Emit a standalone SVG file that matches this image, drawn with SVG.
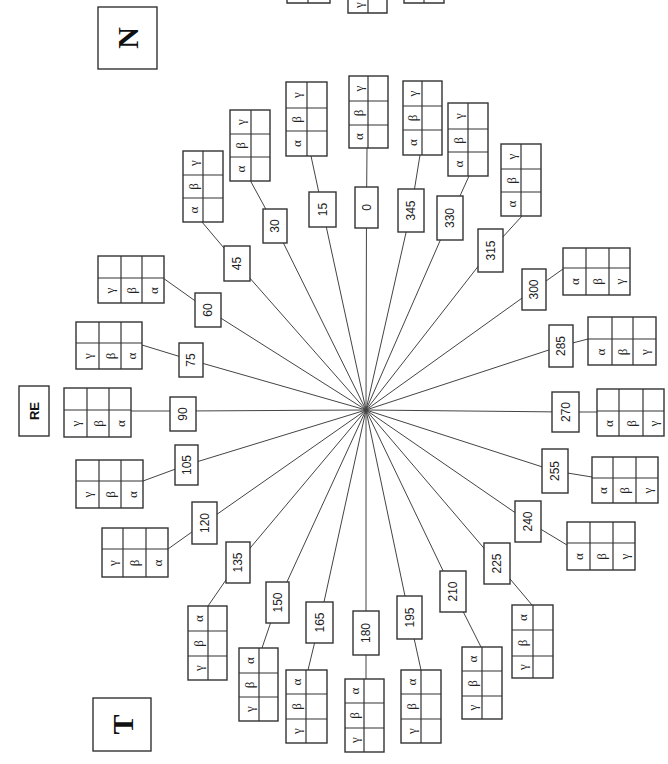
<svg xmlns="http://www.w3.org/2000/svg" width="668" height="764" viewBox="0 0 668 764">
<style>
.bg{fill:#fff}
.ln{stroke:#444;stroke-width:1;fill:none}
.bx{fill:#fff;stroke:#333;stroke-width:1.4}
.tb{fill:#fff;stroke:#333;stroke-width:1.4}
.gl{stroke:#333;stroke-width:1.2}
.num{font-family:"Liberation Sans",Arial,sans-serif;font-size:12px;fill:#222;text-anchor:middle;dominant-baseline:central}
.gr{font-family:"Liberation Serif","DejaVu Serif",serif;font-size:13px;fill:#222;text-anchor:middle;dominant-baseline:central}
.big{font-family:"Liberation Serif","DejaVu Serif",serif;font-size:30px;font-weight:bold;fill:#111;text-anchor:middle;dominant-baseline:central}
.re{font-family:"Liberation Sans",Arial,sans-serif;font-size:13px;font-weight:bold;fill:#111;text-anchor:middle;dominant-baseline:central}
</style>
<rect class="bg" x="0" y="0" width="668" height="764"/>

<g id="connectors">
<path class="ln" d="M366,410 L366.5,207.5 M366.5,207.5 L367,148"/>
<path class="ln" d="M366,410 L322.5,209.5 M322.5,209.5 L311,156"/>
<path class="ln" d="M366,410 L275,226 M275,226 L250,180"/>
<path class="ln" d="M366,410 L237,263.5 M237,263.5 L202,222"/>
<path class="ln" d="M366,410 L208,310 M208,310 L163,278"/>
<path class="ln" d="M366,410 L191,360 M191,360 L142,345"/>
<path class="ln" d="M366,410 L183,411 M183,411 L131,411"/>
<path class="ln" d="M366,410 L186.5,465 M186.5,465 L143,481"/>
<path class="ln" d="M366,410 L204.5,523 M204.5,523 L168,549"/>
<path class="ln" d="M366,410 L238,562.5 M238,562.5 L208,606"/>
<path class="ln" d="M366,410 L277.5,602.5 M277.5,602.5 L262,648"/>
<path class="ln" d="M366,410 L319.5,622.5 M319.5,622.5 L308,670"/>
<path class="ln" d="M366,410 L366,633 M366,633 L366,679"/>
<path class="ln" d="M366,410 L409.5,617.5 M409.5,617.5 L421,670"/>
<path class="ln" d="M366,410 L453,591.5 M453,591.5 L481,647"/>
<path class="ln" d="M366,410 L497,563.5 M497,563.5 L532,605"/>
<path class="ln" d="M366,410 L528,521.5 M528,521.5 L567,545"/>
<path class="ln" d="M366,410 L555,471 M555,471 L592,477"/>
<path class="ln" d="M366,410 L565.5,412 M565.5,412 L597,412"/>
<path class="ln" d="M366,410 L561,346 M561,346 L588,339"/>
<path class="ln" d="M366,410 L534,289.5 M534,289.5 L563,269"/>
<path class="ln" d="M366,410 L490.5,250.5 M490.5,250.5 L522,216"/>
<path class="ln" d="M366,410 L450,218 M450,218 L469,176"/>
<path class="ln" d="M366,410 L411,210.5 M411,210.5 L420,155"/>
</g>

<g id="partial-top">
<path class="tb" d="M287,-5 L287,3 L330,3 L330,-5"/><line class="gl" x1="308" y1="-5" x2="308" y2="3"/>
<path class="tb" d="M348,-5 L348,13 L387,13 L387,-5"/><line class="gl" x1="368" y1="-5" x2="368" y2="13"/>
<text class="gr" transform="rotate(-90 358 5)" x="358" y="5">γ</text>
<path class="tb" d="M404,-5 L404,3 L444,3 L444,-5"/><line class="gl" x1="424" y1="-5" x2="424" y2="3"/>
</g>

<g id="label-N"><rect class="bx" x="98" y="7" width="59" height="62"/><text class="big" transform="rotate(-90 127.5 38)" x="127.5" y="38">N</text></g>
<g id="label-T"><rect class="bx" x="93" y="698" width="58" height="53" stroke-width="1.8"/><text class="big" transform="rotate(-90 122 724.5)" x="122" y="724.5">T</text></g>
<g id="label-RE"><rect class="bx" x="19" y="386" width="30" height="50" stroke-width="1.8"/><text class="re" transform="rotate(-90 34 411)" x="34" y="411">RE</text></g>

<g id="n0"><rect class="bx" x="355" y="187" width="23" height="41"/><text class="num" transform="rotate(-90 366.5 207.5)" x="366.5" y="207.5">0</text>
<rect class="tb" x="349" y="76" width="39" height="72"/><path class="gl" d="M368,76V148M349,101H388M349,125H388"/>
<text class="gr" transform="rotate(-90 358.5 88.5)" x="358.5" y="88.5">γ</text><text class="gr" transform="rotate(-90 358.5 113)" x="358.5" y="113">β</text><text class="gr" transform="rotate(-90 358.5 136.5)" x="358.5" y="136.5">α</text></g>

<g id="n15"><rect class="bx" x="309" y="192" width="27" height="35"/><text class="num" transform="rotate(-90 322.5 209.5)" x="322.5" y="209.5">15</text>
<rect class="tb" x="286" y="82" width="41" height="74"/><path class="gl" d="M307,82V156M286,108H327M286,131H327"/>
<text class="gr" transform="rotate(-90 296.5 95)" x="296.5" y="95">γ</text><text class="gr" transform="rotate(-90 296.5 119.5)" x="296.5" y="119.5">β</text><text class="gr" transform="rotate(-90 296.5 143.5)" x="296.5" y="143.5">α</text></g>

<g id="n345"><rect class="bx" x="398" y="189" width="26" height="43"/><text class="num" transform="rotate(-90 411 210.5)" x="411" y="210.5">345</text>
<rect class="tb" x="403" y="81" width="39" height="74"/><path class="gl" d="M422,81V155M403,106H442M403,130H442"/>
<text class="gr" transform="rotate(-90 412.5 93.5)" x="412.5" y="93.5">γ</text><text class="gr" transform="rotate(-90 412.5 118)" x="412.5" y="118">β</text><text class="gr" transform="rotate(-90 412.5 142.5)" x="412.5" y="142.5">α</text></g>

<g id="n30"><rect class="bx" x="263" y="209" width="24" height="34"/><text class="num" transform="rotate(-90 275 226)" x="275" y="226">30</text>
<rect class="tb" x="230" y="110" width="40" height="71"/><path class="gl" d="M251,110V181M230,134H270M230,157H270"/>
<text class="gr" transform="rotate(-90 240.5 122)" x="240.5" y="122">γ</text><text class="gr" transform="rotate(-90 240.5 145.5)" x="240.5" y="145.5">β</text><text class="gr" transform="rotate(-90 240.5 169)" x="240.5" y="169">α</text></g>

<g id="n45"><rect class="bx" x="224" y="246" width="26" height="35"/><text class="num" transform="rotate(-90 237 263.5)" x="237" y="263.5">45</text>
<rect class="tb" x="183" y="151" width="40" height="71"/><path class="gl" d="M203,151V222M183,175H223M183,198H223"/>
<text class="gr" transform="rotate(-90 193 163)" x="193" y="163">γ</text><text class="gr" transform="rotate(-90 193 186.5)" x="193" y="186.5">β</text><text class="gr" transform="rotate(-90 193 210)" x="193" y="210">α</text></g>

<g id="n330"><rect class="bx" x="437" y="196" width="26" height="44"/><text class="num" transform="rotate(-90 450 218)" x="450" y="218">330</text>
<rect class="tb" x="448" y="103" width="40" height="73"/><path class="gl" d="M468,103V176M448,129H488M448,152H488"/>
<text class="gr" transform="rotate(-90 458 116)" x="458" y="116">γ</text><text class="gr" transform="rotate(-90 458 140.5)" x="458" y="140.5">β</text><text class="gr" transform="rotate(-90 458 164)" x="458" y="164">α</text></g>

<g id="n315"><rect class="bx" x="478" y="229" width="25" height="43"/><text class="num" transform="rotate(-90 490.5 250.5)" x="490.5" y="250.5">315</text>
<rect class="tb" x="501" y="144" width="40" height="72"/><path class="gl" d="M521,144V216M501,169H541M501,192H541"/>
<text class="gr" transform="rotate(-90 511 156.5)" x="511" y="156.5">γ</text><text class="gr" transform="rotate(-90 511 180.5)" x="511" y="180.5">β</text><text class="gr" transform="rotate(-90 511 204)" x="511" y="204">α</text></g>

<g id="n60"><rect class="bx" x="195" y="293" width="26" height="34"/><text class="num" transform="rotate(-90 208 310)" x="208" y="310">60</text>
<rect class="tb" x="98" y="256" width="66" height="47"/><path class="gl" d="M121,256V303M142,256V303M98,278H164"/>
<text class="gr" transform="rotate(-90 109.5 290.5)" x="109.5" y="290.5">γ</text><text class="gr" transform="rotate(-90 131.5 290.5)" x="131.5" y="290.5">β</text><text class="gr" transform="rotate(-90 153 290.5)" x="153" y="290.5">α</text></g>

<g id="n75"><rect class="bx" x="179" y="343" width="24" height="34"/><text class="num" transform="rotate(-90 191 360)" x="191" y="360">75</text>
<rect class="tb" x="76" y="322" width="66" height="47"/><path class="gl" d="M99,322V369M121,322V369M76,343H142"/>
<text class="gr" transform="rotate(-90 87.5 356)" x="87.5" y="356">γ</text><text class="gr" transform="rotate(-90 110 356)" x="110" y="356">β</text><text class="gr" transform="rotate(-90 131.5 356)" x="131.5" y="356">α</text></g>

<g id="n90"><rect class="bx" x="170" y="397" width="26" height="34"/><text class="num" transform="rotate(-90 183 414)" x="183" y="414">90</text>
<rect class="tb" x="64" y="388" width="67" height="49"/><path class="gl" d="M87,388V437M109,388V437M64,410H131"/>
<text class="gr" transform="rotate(-90 75.5 423.5)" x="75.5" y="423.5">γ</text><text class="gr" transform="rotate(-90 98 423.5)" x="98" y="423.5">β</text><text class="gr" transform="rotate(-90 120 423.5)" x="120" y="423.5">α</text></g>

<g id="n105"><rect class="bx" x="175" y="445" width="23" height="40"/><text class="num" transform="rotate(-90 186.5 465)" x="186.5" y="465">105</text>
<rect class="tb" x="76" y="460" width="67" height="48"/><path class="gl" d="M99,460V508M121,460V508M76,481H143"/>
<text class="gr" transform="rotate(-90 87.5 494.5)" x="87.5" y="494.5">γ</text><text class="gr" transform="rotate(-90 110 494.5)" x="110" y="494.5">β</text><text class="gr" transform="rotate(-90 132 494.5)" x="132" y="494.5">α</text></g>

<g id="n120"><rect class="bx" x="192" y="502" width="25" height="42"/><text class="num" transform="rotate(-90 204.5 523)" x="204.5" y="523">120</text>
<rect class="tb" x="102" y="528" width="66" height="49"/><path class="gl" d="M123,528V577M146,528V577M102,549H168"/>
<text class="gr" transform="rotate(-90 112.5 563)" x="112.5" y="563">γ</text><text class="gr" transform="rotate(-90 134.5 563)" x="134.5" y="563">β</text><text class="gr" transform="rotate(-90 157 563)" x="157" y="563">α</text></g>

<g id="n135"><rect class="bx" x="226" y="542" width="24" height="41"/><text class="num" transform="rotate(-90 238 562.5)" x="238" y="562.5">135</text>
<rect class="tb" x="188" y="606" width="39" height="74"/><path class="gl" d="M208,606V680M188,631H227M188,656H227"/>
<text class="gr" transform="rotate(-90 198 618.5)" x="198" y="618.5">α</text><text class="gr" transform="rotate(-90 198 643.5)" x="198" y="643.5">β</text><text class="gr" transform="rotate(-90 198 668)" x="198" y="668">γ</text></g>

<g id="n150"><rect class="bx" x="266" y="582" width="23" height="41"/><text class="num" transform="rotate(-90 277.5 602.5)" x="277.5" y="602.5">150</text>
<rect class="tb" x="239" y="648" width="39" height="73"/><path class="gl" d="M259,648V721M239,673H278M239,697H278"/>
<text class="gr" transform="rotate(-90 249 660.5)" x="249" y="660.5">α</text><text class="gr" transform="rotate(-90 249 685)" x="249" y="685">β</text><text class="gr" transform="rotate(-90 249 709)" x="249" y="709">γ</text></g>

<g id="n165"><rect class="bx" x="306" y="602" width="27" height="41"/><text class="num" transform="rotate(-90 319.5 622.5)" x="319.5" y="622.5">165</text>
<rect class="tb" x="286" y="670" width="41" height="73"/><path class="gl" d="M306,670V743M286,694H327M286,719H327"/>
<text class="gr" transform="rotate(-90 296 682)" x="296" y="682">α</text><text class="gr" transform="rotate(-90 296 706.5)" x="296" y="706.5">β</text><text class="gr" transform="rotate(-90 296 731)" x="296" y="731">γ</text></g>

<g id="n180"><rect class="bx" x="353" y="611" width="26" height="44"/><text class="num" transform="rotate(-90 366 633)" x="366" y="633">180</text>
<rect class="tb" x="345" y="679" width="39" height="73"/><path class="gl" d="M364,679V752M345,703H384M345,728H384"/>
<text class="gr" transform="rotate(-90 354.5 691)" x="354.5" y="691">α</text><text class="gr" transform="rotate(-90 354.5 715.5)" x="354.5" y="715.5">β</text><text class="gr" transform="rotate(-90 354.5 740)" x="354.5" y="740">γ</text></g>

<g id="n195"><rect class="bx" x="397" y="596" width="25" height="43"/><text class="num" transform="rotate(-90 409.5 617.5)" x="409.5" y="617.5">195</text>
<rect class="tb" x="401" y="670" width="40" height="73"/><path class="gl" d="M421,670V743M401,694H441M401,719H441"/>
<text class="gr" transform="rotate(-90 411 682)" x="411" y="682">α</text><text class="gr" transform="rotate(-90 411 706.5)" x="411" y="706.5">β</text><text class="gr" transform="rotate(-90 411 731)" x="411" y="731">γ</text></g>

<g id="n210"><rect class="bx" x="440" y="571" width="26" height="41"/><text class="num" transform="rotate(-90 453 591.5)" x="453" y="591.5">210</text>
<rect class="tb" x="462" y="647" width="40" height="72"/><path class="gl" d="M482,647V719M462,671H502M462,696H502"/>
<text class="gr" transform="rotate(-90 472 659)" x="472" y="659">α</text><text class="gr" transform="rotate(-90 472 683.5)" x="472" y="683.5">β</text><text class="gr" transform="rotate(-90 472 707.5)" x="472" y="707.5">γ</text></g>

<g id="n225"><rect class="bx" x="484" y="543" width="26" height="41"/><text class="num" transform="rotate(-90 497 563.5)" x="497" y="563.5">225</text>
<rect class="tb" x="512" y="605" width="41" height="73"/><path class="gl" d="M533,605V678M512,630H553M512,656H553"/>
<text class="gr" transform="rotate(-90 522.5 617.5)" x="522.5" y="617.5">α</text><text class="gr" transform="rotate(-90 522.5 643)" x="522.5" y="643">β</text><text class="gr" transform="rotate(-90 522.5 667)" x="522.5" y="667">γ</text></g>

<g id="n240"><rect class="bx" x="515" y="501" width="26" height="41"/><text class="num" transform="rotate(-90 528 521.5)" x="528" y="521.5">240</text>
<rect class="tb" x="567" y="522" width="68" height="48"/><path class="gl" d="M590,522V570M613,522V570M567,543H635"/>
<text class="gr" transform="rotate(-90 578.5 556.5)" x="578.5" y="556.5">α</text><text class="gr" transform="rotate(-90 601.5 556.5)" x="601.5" y="556.5">β</text><text class="gr" transform="rotate(-90 624 556.5)" x="624" y="556.5">γ</text></g>

<g id="n255"><rect class="bx" x="542" y="449" width="26" height="44"/><text class="num" transform="rotate(-90 555 471)" x="555" y="471">255</text>
<rect class="tb" x="592" y="457" width="66" height="46"/><path class="gl" d="M613,457V503M636,457V503M592,478H658"/>
<text class="gr" transform="rotate(-90 602.5 490.5)" x="602.5" y="490.5">α</text><text class="gr" transform="rotate(-90 624.5 490.5)" x="624.5" y="490.5">β</text><text class="gr" transform="rotate(-90 647 490.5)" x="647" y="490.5">γ</text></g>

<g id="n270"><rect class="bx" x="552" y="392" width="27" height="40"/><text class="num" transform="rotate(-90 565.5 412)" x="565.5" y="412">270</text>
<rect class="tb" x="597" y="389" width="67" height="47"/><path class="gl" d="M619,389V436M643,389V436M597,411H664"/>
<text class="gr" transform="rotate(-90 608 423.5)" x="608" y="423.5">α</text><text class="gr" transform="rotate(-90 631 423.5)" x="631" y="423.5">β</text><text class="gr" transform="rotate(-90 653.5 423.5)" x="653.5" y="423.5">γ</text></g>

<g id="n285"><rect class="bx" x="549" y="325" width="24" height="42"/><text class="num" transform="rotate(-90 561 346)" x="561" y="346">285</text>
<rect class="tb" x="588" y="317" width="68" height="48"/><path class="gl" d="M612,317V365M633,317V365M588,339H656"/>
<text class="gr" transform="rotate(-90 600 352)" x="600" y="352">α</text><text class="gr" transform="rotate(-90 622.5 352)" x="622.5" y="352">β</text><text class="gr" transform="rotate(-90 644.5 352)" x="644.5" y="352">γ</text></g>

<g id="n300"><rect class="bx" x="522" y="269" width="24" height="41"/><text class="num" transform="rotate(-90 534 289.5)" x="534" y="289.5">300</text>
<rect class="tb" x="563" y="248" width="67" height="47"/><path class="gl" d="M586,248V295M609,248V295M563,268H630"/>
<text class="gr" transform="rotate(-90 574.5 281.5)" x="574.5" y="281.5">α</text><text class="gr" transform="rotate(-90 597.5 281.5)" x="597.5" y="281.5">β</text><text class="gr" transform="rotate(-90 619.5 281.5)" x="619.5" y="281.5">γ</text></g>
</svg>
